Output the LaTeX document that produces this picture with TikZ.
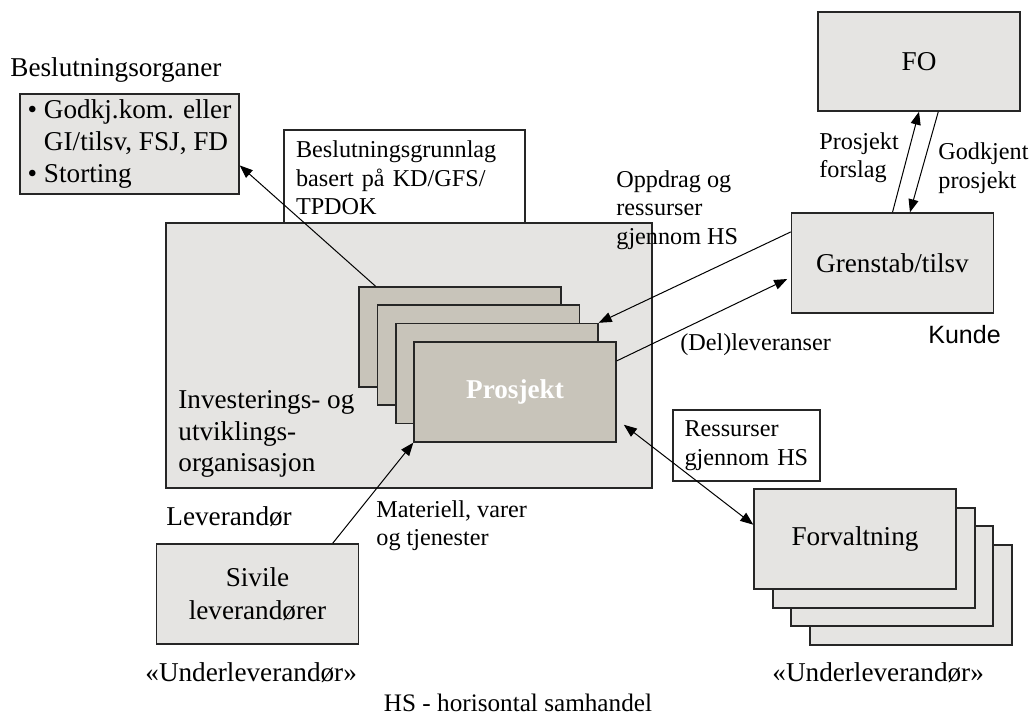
\documentclass[tikz,border=0pt]{standalone}
\usepackage{fontspec}
\setmainfont{Liberation Serif}
\newfontfamily\kundefont{Liberation Sans}
\usetikzlibrary{arrows.meta}
\definecolor{boxgray}{RGB}{229,228,226}
\definecolor{projgray}{RGB}{200,196,186}
\newcommand\tekstfont{\fontsize{13.6}{15.6}\selectfont}
\newcommand\smaafont{\fontsize{12.1}{14.2}\selectfont}

\begin{document}
\begin{tikzpicture}[x=0.5pt,y=-0.5pt,font=\tekstfont,
    box/.style={draw=black!85,line width=0.7pt,fill=boxgray,inner sep=0pt,
        minimum width=101pt,minimum height=50pt,align=center},
    prosj/.style={box,fill=projgray},
    hvit/.style={draw=black!85,line width=0.6pt,fill=white,inner xsep=6pt,inner ysep=0pt,
        align=left,font=\smaafont},
    tekst/.style={anchor=west,inner sep=0pt,align=left},
    pil/.style={line width=0.5pt,-{Triangle[length=6.5pt,width=5pt]}},
    dpil/.style={line width=0.5pt,{Triangle[length=6.5pt,width=5pt]}-{Triangle[length=6.5pt,width=5pt]}}]
        \useasboundingbox (0,0) rectangle (1032,721);
        \node at (10,70) [tekst] (botittel) {Beslutningsorganer};
        \node at (129.5,144) [box,minimum width=109.5pt,align=left,
            font=\fontsize{13.6}{15.8}\selectfont] (bo)
            {\textbullet\ Godkj.kom. eller\\\phantom{\textbullet\ }GI/tilsv, FSJ, FD\\\textbullet\ Storting};
        \node at (404.5,178) [hvit,text width=108.5pt,minimum height=48pt] (grunnlag)
            {Beslutningsgrunnlag\\basert på KD/GFS/\\TPDOK};
        \node at (409,355.5) [box,minimum width=243pt,minimum height=132.5pt] (iuo) {};
        \node at (178,434) [tekst] (iuotekst) {Investerings- og\\utviklings-\\organisasjon};
        \foreach \n/\x/\y in {1/460/337,2/478.5/355,3/497/373.5}
            \node at (\x,\y) [prosj] (p\n) {};
        \node at (515,392) [prosj,text=white,font=\tekstfont\bfseries] (p4) {Prosjekt};
        \node at (919,61.5) [box,minimum height=49.5pt] (fo) {FO};
        \node at (892.5,263) [box] (gren) {Grenstab/tilsv};
        \node at (257.5,594) [box,font=\fontsize{13.6}{16.4}\selectfont] (sivile) {Sivile\\leverandører};
        \node at (746.5,445.5) [hvit,text width=62pt,inner xsep=5.75pt,minimum height=35.5pt] (ress)
            {Ressurser\\gjennom HS};
        \foreach \n/\x/\y in {4/911/595,3/892/576,2/874/558}
            \node at (\x,\y) [box] (f\n) {};
        \node at (855,539) [box] (f1) {Forvaltning};
        \node at (616,210) [tekst,font=\smaafont] (oppdrag) {Oppdrag og\\ressurser\\gjennom HS};
        \node at (819,158) [tekst,font=\smaafont] (forslag) {Prosjekt\\forslag};
        \node at (938,168) [tekst,font=\smaafont] (godkjent) {Godkjent\\prosjekt};
        \node at (680,345) [tekst,font=\smaafont] (del) {(Del)leveranser};
        \node at (928,335) [tekst,font=\kundefont\fontsize{12.5}{14}\selectfont] (kunde) {Kunde};
        \node at (166,517) [tekst] (lev) {Leverandør};
        \node at (376,526) [tekst,font=\smaafont] (materiell) {Materiell, varer\\og tjenester};
        \node at (145,673) [tekst] (ul1) {«Underleverandør»};
        \node at (772,673) [tekst] (ul2) {«Underleverandør»};
        \node at (518,703) [inner sep=0pt,font=\fontsize{12.6}{14}\selectfont] (hs) {HS - horisontal samhandel};
        \draw [pil] (p1.149) to (bo.-11.8);
        \draw [pil] (gren.163.4) to (p3.north east);
        \draw [pil,shorten >=2pt] (p4.17.6) to (gren.188.2);
        \draw [pil] (gren.north) to (fo.south);
        \draw [pil] (fo.-69) to (gren.71);
        \draw [pil] (sivile.34.6) to (p4.south west);
        \draw [dpil,shorten <=4.5pt] (p4.-15.3) to (f1.172.7);
\end{tikzpicture}
\end{document}
